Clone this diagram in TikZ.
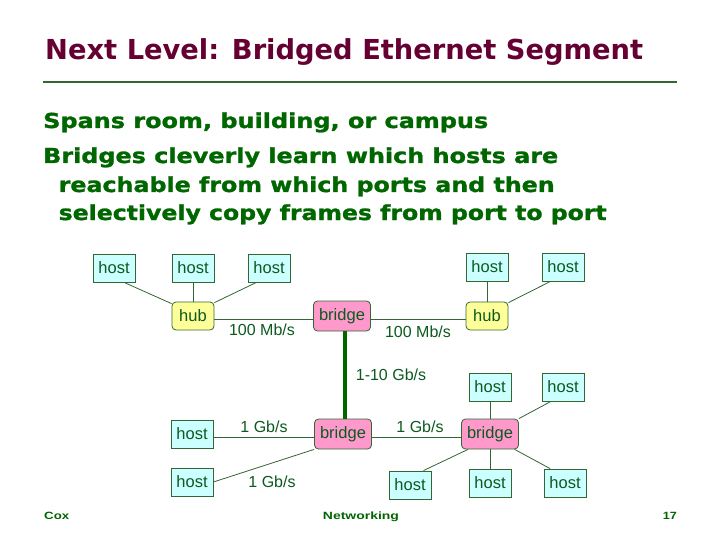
\documentclass[tikz,border=0pt]{standalone}
\usepackage{fontspec}
\setmainfont{Liberation Sans}
\newfontfamily\verd{DejaVu Sans}
\newfontfamily\verdh{DejaVu Sans}[BoldFeatures={FakeBold=1.2}]
\usepackage{graphicx}
\definecolor{titlec}{HTML}{660033}
\definecolor{bodyc}{HTML}{006600}
\definecolor{lblc}{HTML}{0B5A1E}
\definecolor{edgec}{HTML}{336633}
\definecolor{hostfill}{HTML}{CCFFFF}
\definecolor{hubfill}{HTML}{FFFF99}
\definecolor{bridgefill}{HTML}{FF99CC}
\begin{document}
\begin{tikzpicture}[x=1pt,y=-1pt,
  box/.style={draw=edgec, line width=0.8pt, inner sep=0pt, font=\fontsize{16.5}{18}\selectfont, text=lblc},
  hostbox/.style={box, fill=hostfill, minimum width=42pt, minimum height=28pt},
  hubbox/.style={box, fill=hubfill, rounded corners=4pt, minimum width=42pt, minimum height=28pt},
  bridgebox/.style={box, fill=bridgefill, rounded corners=4pt, minimum width=57pt, minimum height=30pt},
  link/.style={draw=edgec, line width=0.8pt},
  trunk/.style={draw=bodyc, line width=4pt},
  rate/.style={font=\fontsize{16}{18}\selectfont, text=lblc, inner sep=0pt},
  bodytext/.style={anchor=base west, inner sep=0pt, text=bodyc, font=\verdh\bfseries\fontsize{20.6}{24}\selectfont},
  foot/.style={inner sep=0pt, text=bodyc, font=\bfseries\fontsize{10.5}{12}\selectfont}]
\fill[white] (0,0) rectangle (720,540);
\useasboundingbox (0,0) rectangle (720,540);

% title
\node[anchor=base west, inner sep=0pt, text=titlec, font=\verd\bfseries\fontsize{27.5}{30}\selectfont] (title) at (45,60) {\resizebox{598pt}{\height}{Next Level: Bridged Ethernet Segment}};
\coordinate (rl) at (43,82);
\coordinate (rr) at (677,82);
\draw[edgec, line width=2pt] (rl) -- (rr);

% body
\node[bodytext] (l1) at (43,128) {\resizebox{445pt}{\height}{Spans room, building, or campus}};
\node[bodytext] (l2) at (43,163) {\resizebox{515pt}{\height}{Bridges cleverly learn which hosts are}};
\node[bodytext] (l3) at (58.5,192) {\resizebox{496pt}{\height}{reachable from which ports and then}};
\node[bodytext] (l4) at (58.5,220) {\resizebox{548pt}{\height}{selectively copy frames from port to port}};

% nodes
\node[hostbox] (h1) at (114,268) {host};
\node[hostbox] (h2) at (193,268) {host};
\node[hostbox] (h3) at (269,268) {host};
\node[hubbox] (hub1) at (193,316) {hub};
\node[bridgebox] (br1) at (342,316) {bridge};
\node[hubbox] (hub2) at (487,316) {hub};
\node[hostbox] (h4) at (487,267) {host};
\node[hostbox] (h5) at (563,267) {host};
\node[bridgebox] (br2) at (343,434) {bridge};
\node[hostbox] (hl1) at (192,434) {host};
\node[hostbox] (hl2) at (192,482) {host};
\node[bridgebox] (br3) at (490,434) {bridge};
\node[hostbox] (h6) at (490,387) {host};
\node[hostbox] (h7) at (563,387) {host};
\node[hostbox] (hb1) at (410,485) {host};
\node[hostbox] (hb2) at (490,483) {host};
\node[hostbox] (hb3) at (565,483) {host};

% links
\draw[link] (h1.305) -- (hub1.150);
\draw[link] (h2) -- (hub1);
\draw[link] (h3.229) -- (hub1.32);
\draw[link] ([yshift=-3pt]hub1.east) -- ([yshift=-3pt]br1.west);
\draw[link] ([yshift=-3pt]br1.east) -- ([yshift=-3pt]hub2.west);
\draw[link] (h4) -- (hub2);
\draw[link] (h5.229) -- (hub2.32);
\draw[trunk] ([xshift=3pt]br1.south) -- ([xshift=2pt]br2.north);
\draw[link] ([yshift=-3pt]hl1.east) -- ([yshift=-3pt]br2.west);
\draw[link] (hl2.east) -- (br2.south west);
\draw[link] ([yshift=-3pt]br2.east) -- ([yshift=-3pt]br3.west);
\draw[link] (h6) -- (br3);
\draw[link] (h7.230) -- (br3.north east);
\draw[link] (hb1.47) -- (br3.215);
\draw[link] (hb2) -- (br3);
\draw[link] (hb3.136) -- (br3.328);

% rates
\node[rate] (r1) at (262,330) {100 Mb/s};
\node[rate] (r2) at (418,332) {100 Mb/s};
\node[rate] (r3) at (391,375) {1-10 Gb/s};
\node[rate] (r4) at (264,427) {1 Gb/s};
\node[rate] (r5) at (272,482) {1 Gb/s};
\node[rate] (r6) at (420,427) {1 Gb/s};

% footer
\node[foot, anchor=base west] (f1) at (44,519) {\resizebox{25pt}{\height}{Cox}};
\node[foot, anchor=base] (f2) at (361,519) {\resizebox{76pt}{\height}{Networking}};
\node[foot, anchor=base east] (f3) at (677,519) {\resizebox{14pt}{\height}{17}};
\end{tikzpicture}
\end{document}
